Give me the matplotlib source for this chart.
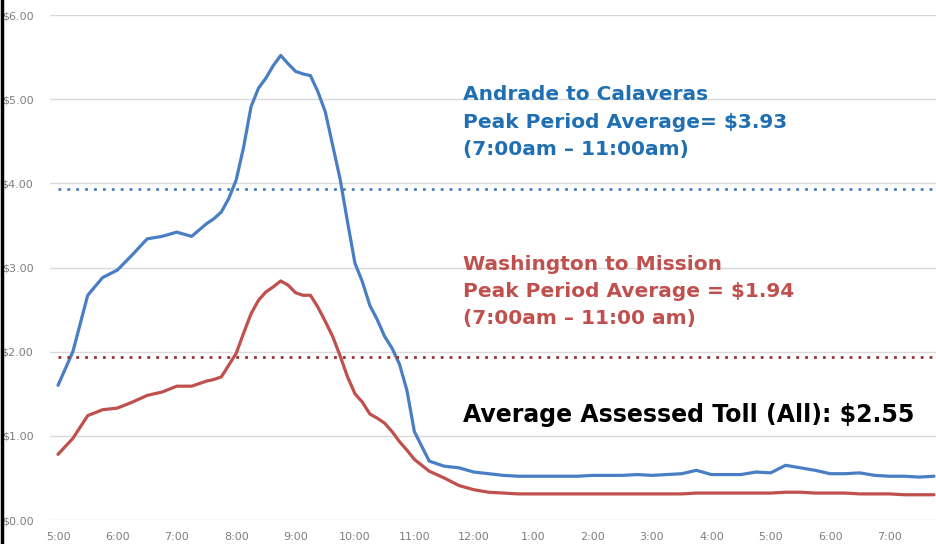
import matplotlib
matplotlib.use("Agg")
import matplotlib.pyplot as plt
from matplotlib.lines import Line2D

# hours after 5:00am (15-minute readings, 7.5-minute around the peak)
hours = [0.0, 0.25, 0.5, 0.75, 1.0, 1.25, 1.5, 1.75, 2.0, 2.25, 2.5,
         2.625, 2.75, 2.875, 3.0, 3.125, 3.25, 3.375, 3.5, 3.625, 3.75,
         3.875, 4.0, 4.125, 4.25, 4.375, 4.5, 4.625, 4.75, 4.875, 5.0,
         5.125, 5.25, 5.375, 5.5, 5.625, 5.75, 5.875, 6.0, 6.25, 6.5,
         6.75, 7.0, 7.25, 7.5, 7.75, 8.0, 8.25, 8.5, 8.75, 9.0, 9.25,
         9.5, 9.75, 10.0, 10.25, 10.5, 10.75, 11.0, 11.25, 11.5, 11.75,
         12.0, 12.25, 12.5, 12.75, 13.0, 13.25, 13.5, 13.75, 14.0, 14.25,
         14.5, 14.75]

andrade = [1.60, 2.00, 2.67, 2.88, 2.97, 3.15, 3.34, 3.37, 3.42, 3.37, 3.52,
           3.58, 3.66, 3.82, 4.04, 4.43, 4.91, 5.13, 5.25, 5.40, 5.52,
           5.42, 5.33, 5.30, 5.28, 5.09, 4.85, 4.45, 4.05, 3.54, 3.05,
           2.83, 2.55, 2.38, 2.18, 2.04, 1.85, 1.54, 1.05, 0.70, 0.64,
           0.62, 0.57, 0.55, 0.53, 0.52, 0.52, 0.52, 0.52, 0.52, 0.53, 0.53,
           0.53, 0.54, 0.53, 0.54, 0.55, 0.59, 0.54, 0.54, 0.54, 0.57,
           0.56, 0.65, 0.62, 0.59, 0.55, 0.55, 0.56, 0.53, 0.52, 0.52,
           0.51, 0.52]

washington = [0.78, 0.97, 1.24, 1.31, 1.33, 1.40, 1.48, 1.52, 1.59, 1.59, 1.65,
              1.67, 1.70, 1.84, 1.98, 2.22, 2.45, 2.61, 2.71, 2.77, 2.84,
              2.79, 2.70, 2.67, 2.67, 2.53, 2.36, 2.18, 1.95, 1.70, 1.50,
              1.40, 1.26, 1.21, 1.15, 1.05, 0.93, 0.83, 0.72, 0.58, 0.50,
              0.41, 0.36, 0.33, 0.32, 0.31, 0.31, 0.31, 0.31, 0.31, 0.31, 0.31,
              0.31, 0.31, 0.31, 0.31, 0.31, 0.32, 0.32, 0.32, 0.32, 0.32,
              0.32, 0.33, 0.33, 0.32, 0.32, 0.32, 0.31, 0.31, 0.31, 0.30,
              0.30, 0.30]

andrade_avg = 3.93
washington_avg = 1.94
overall_avg = 2.55

tick_labels = ["5:00", "6:00", "7:00", "8:00", "9:00", "10:00", "11:00", "12:00",
               "1:00", "2:00", "3:00", "4:00", "5:00", "6:00", "7:00"]
y_labels = ["$0.00", "$1.00", "$2.00", "$3.00", "$4.00", "$5.00", "$6.00"]

blue = "#4A7EC4"
red = "#C0504D"

fig = plt.figure(figsize=(9.37, 5.44), dpi=100)
ax = fig.add_axes([50 / 937, 1 - 520 / 544, 1 - 50 / 937, (520 - 15) / 544])

ax.set_xlim(-0.135, 14.80)
ax.set_ylim(0, 6)

ax.set_yticks(range(7))
ax.set_yticklabels(y_labels)
ax.set_xticks(range(len(tick_labels)))
ax.set_xticklabels(tick_labels)
ax.tick_params(length=0, labelsize=8, colors="#7F7F7F", pad=9)
ax.tick_params(axis="y", pad=12)
ax.grid(axis="y", color="#D9D9D9", linewidth=1)
ax.set_axisbelow(True)
for s in ax.spines.values():
    s.set_visible(False)

ax.plot(hours, andrade, color=blue, lw=2.3, solid_capstyle="round", solid_joinstyle="round")
ax.plot(hours, washington, color=red, lw=2.3, solid_capstyle="round", solid_joinstyle="round")

ax.plot([hours[0], 14.80], [andrade_avg, andrade_avg], color="#4A7EC4", lw=2, ls=(0, (1, 2.2)))
ax.plot([hours[0], 14.80], [washington_avg, washington_avg], color="#9E3030", lw=2, ls=(0, (1, 2.2)))

tx = (463 - 58) / 59.4
ax.text(tx, 4.29, "Andrade to Calaveras\nPeak Period Average= $%.2f\n(7:00am \u2013 11:00am)" % andrade_avg,
        color="#1F6FB2", fontsize=14.5, fontweight="bold", va="bottom", ha="left", linespacing=1.55)
ax.text(tx, 2.28, "Washington to Mission\nPeak Period Average = $%.2f\n(7:00am \u2013 11:00 am)" % washington_avg,
        color=red, fontsize=14.5, fontweight="bold", va="bottom", ha="left", linespacing=1.55)
ax.text(tx, 1.25, "Average Assessed Toll (All): $%.2f" % overall_avg, color="black", fontsize=17,
        fontweight="bold", va="center", ha="left")

fig.add_artist(Line2D([2.5 / 937, 2.5 / 937], [0, 1], color="black", lw=2.5))

fig.savefig("out.png", dpi=100)
